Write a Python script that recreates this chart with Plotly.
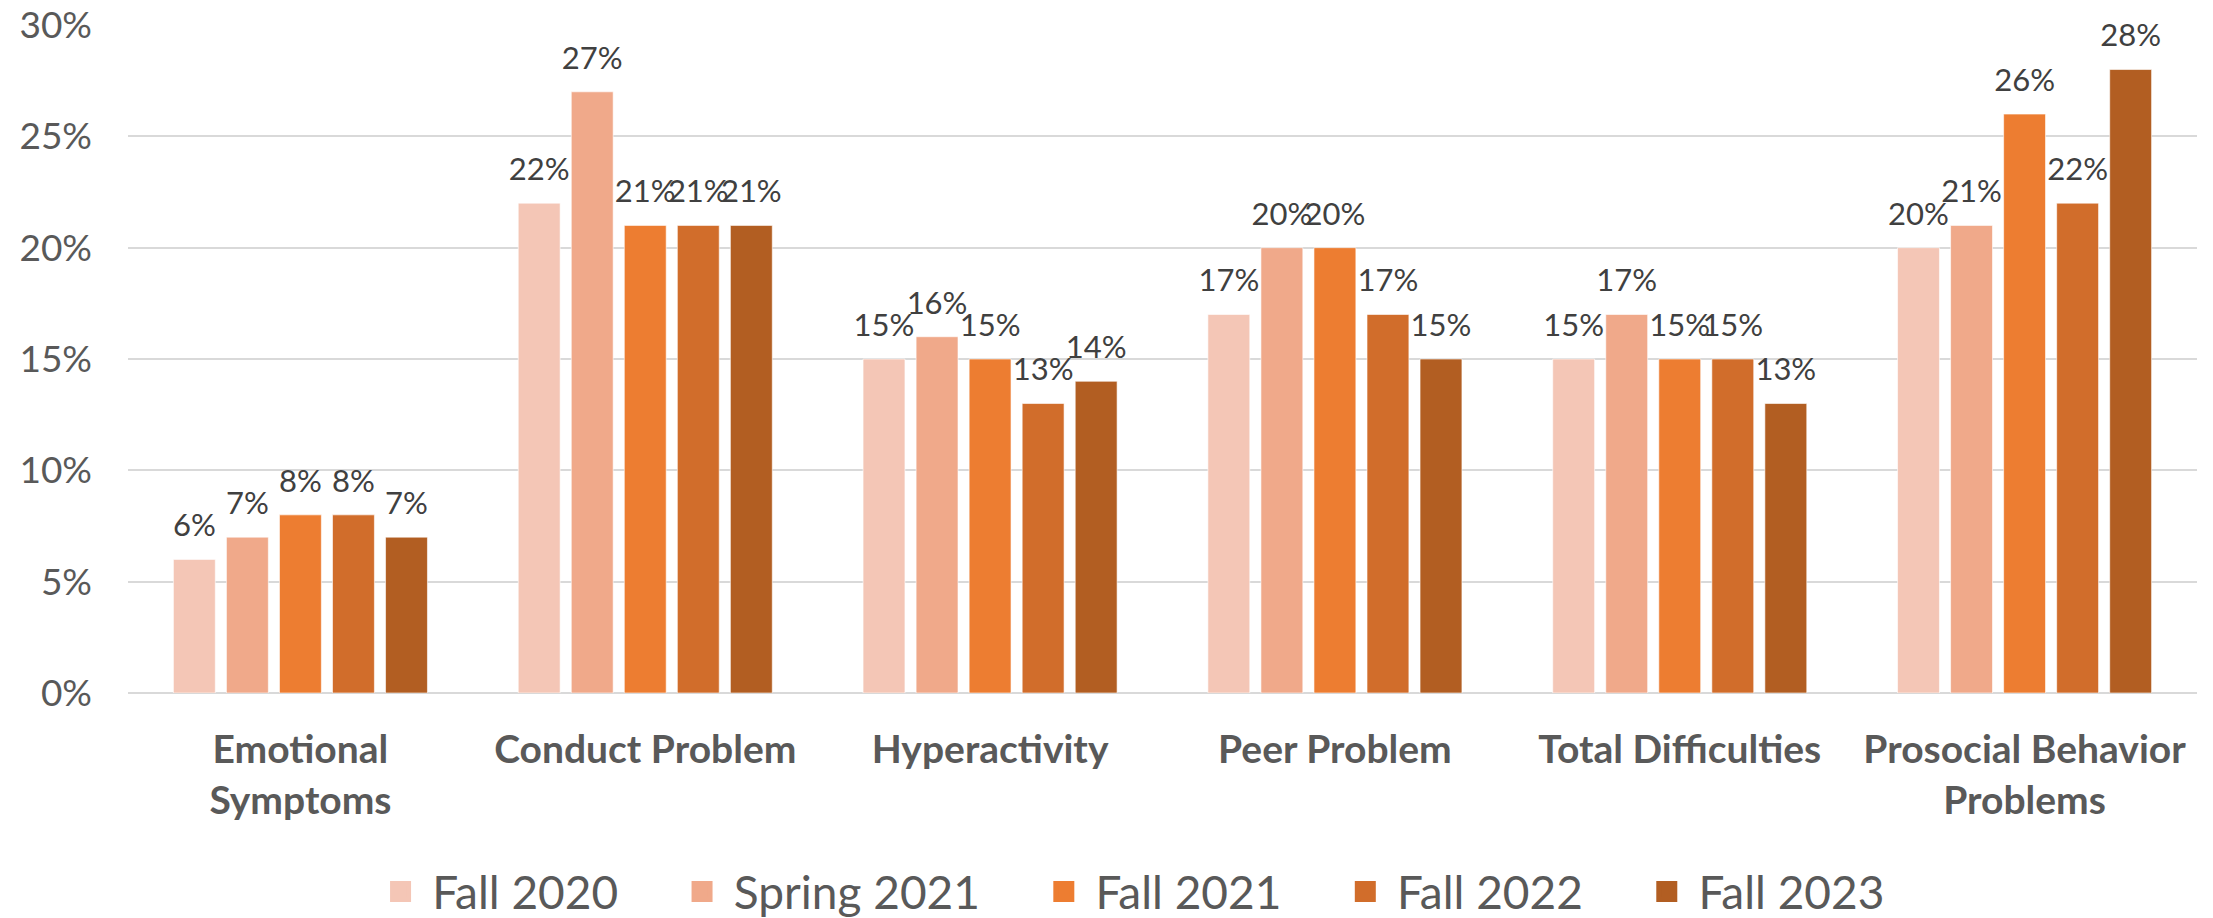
import plotly.graph_objects as go

# ----------------------
# Data
# ----------------------
categories = ["Emotional<br>Symptoms", "Conduct Problem", "Hyperactivity",
              "Peer Problem", "Total Difficulties", "Prosocial Behavior<br>Problems"]
series_names = ["Fall 2020", "Spring 2021", "Fall 2021", "Fall 2022", "Fall 2023"]

fall_2020 = [0.06, 0.22, 0.15, 0.17, 0.15, 0.20]
spring_2021 = [0.07, 0.27, 0.16, 0.20, 0.17, 0.21]
fall_2021 = [0.08, 0.21, 0.15, 0.20, 0.15, 0.26]
fall_2022 = [0.08, 0.21, 0.13, 0.17, 0.15, 0.22]
fall_2023 = [0.07, 0.21, 0.14, 0.15, 0.13, 0.28]

series_values = [fall_2020, spring_2021, fall_2021, fall_2022, fall_2023]
y_ticks = [0, 0.05, 0.10, 0.15, 0.20, 0.25, 0.30]
colors = ["#F4C6B6", "#F0A98A", "#ED7D31", "#D16D2B", "#B25E22"]

FONT = "Lato"
NBSP = "\u00a0"
GAP = 0.231

fig = go.Figure()

for name, vals, col in zip(series_names, series_values, colors):
    fig.add_trace(go.Bar(
        x=categories, y=vals, name=name, offsetgroup=name, showlegend=False,
        marker=dict(color=col, line=dict(color="rgba(255,255,255,0.6)", width=1)),
        hoverinfo="skip",
    ))

# value labels: text scatter grouped like the bars; the invisible marker
# gives the extra gap between bar top and label
for name, vals, col in zip(series_names, series_values, colors):
    fig.add_trace(go.Scatter(
        x=categories, y=vals, offsetgroup=name, mode="markers+text",
        text=[f"{v:.0%}" for v in vals], textposition="top center",
        textfont=dict(family=FONT, size=31, color="#404040"),
        marker=dict(size=23, opacity=0),
        showlegend=False, cliponaxis=False, hoverinfo="skip",
    ))
    # legend-only entry so the legend square can be bigger than the bar default
    fig.add_trace(go.Scatter(
        x=[categories[0]], y=[None], mode="markers", offsetgroup=name,
        name=NBSP + name + NBSP * 5,
        marker=dict(symbol="square", size=16, color=col, line=dict(color=col, width=5)),
        hoverinfo="skip",
    ))

# ----------------------
# Layout
# (page body has an 8px margin, so the figure is 8px smaller than the window)
# ----------------------
fig.update_layout(
    width=2205, height=910,
    paper_bgcolor="white", plot_bgcolor="white",
    margin=dict(l=120, r=16, t=17, b=225),
    barmode="group",
    bargap=GAP,
    bargroupgap=0.21,
    scattermode="group",
    scattergap=GAP,
    font=dict(family=FONT, color="#595959"),
    showlegend=True,
    legend=dict(
        orientation="h",
        x=0.501, xanchor="center",
        yref="container", y=0.029, yanchor="middle",
        font=dict(family=FONT, size=46, color="#595959"),
        traceorder="normal",
    ),
)

fig.update_yaxes(
    range=[0, 0.30], tickvals=y_ticks, tickformat=".0%",
    showgrid=True, gridcolor="#D9D9D9", gridwidth=2,
    zeroline=True, zerolinecolor="#D9D9D9", zerolinewidth=2,
    tickfont=dict(family=FONT, size=37, color="#595959"),
    ticklabelstandoff=35, ticklabeloverflow="allow",
    showline=False, automargin=False,
)

fig.update_xaxes(
    showgrid=False, showline=False,
    tickfont=dict(family=FONT, size=39, color="#595959", weight="bold"),
    ticklabelstandoff=30, automargin=False,
)

fig.write_html("out.html")
